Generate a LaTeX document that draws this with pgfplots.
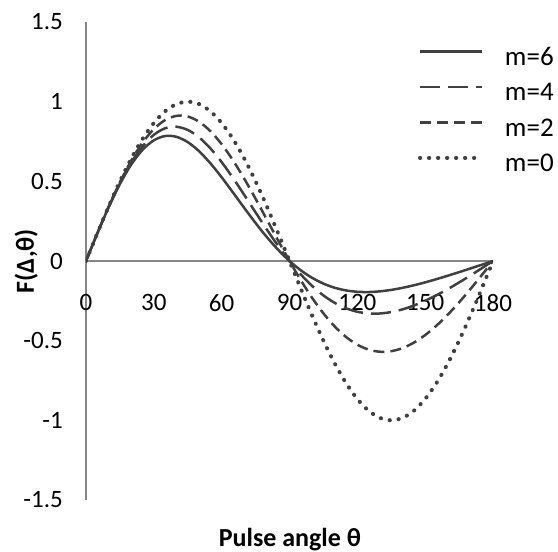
\documentclass[border=0pt]{standalone}
\usepackage{fontspec}
\setmainfont{Carlito}
\usepackage{pgfplots}
\pgfplotsset{compat=1.18}
\usepackage{pgfplotstable}
\definecolor{curve}{RGB}{64,64,64}
\definecolor{axisgray}{RGB}{134,134,134}
\pgfplotstableread{
theta m6 m4 m2 m0
0 0 0 0 0
5 0.1730 0.1732 0.1734 0.1736
10 0.3368 0.3385 0.3403 0.3420
15 0.4832 0.4888 0.4943 0.5000
20 0.6052 0.6175 0.6300 0.6428
25 0.6975 0.7196 0.7425 0.7660
30 0.7574 0.7920 0.8282 0.8660
35 0.7843 0.8331 0.8847 0.9397
40 0.7794 0.8426 0.9109 0.9848
45 0.7461 0.8226 0.9070 1.0000
50 0.6891 0.7761 0.8742 0.9848
55 0.6135 0.7072 0.8152 0.9397
60 0.5253 0.6205 0.7331 0.8660
65 0.4300 0.5213 0.6319 0.7660
70 0.3329 0.4145 0.5162 0.6428
75 0.2383 0.3051 0.3906 0.5000
80 0.1497 0.1971 0.2596 0.3420
85 0.0697 0.0945 0.1280 0.1736
90 0 0 0 0
95 -0.0585 -0.0841 -0.1208 -0.1736
100 -0.1057 -0.1564 -0.2313 -0.3420
105 -0.1420 -0.2161 -0.3287 -0.5000
110 -0.1680 -0.2627 -0.4110 -0.6428
115 -0.1847 -0.2967 -0.4768 -0.7660
120 -0.1932 -0.3186 -0.5253 -0.8660
125 -0.1948 -0.3292 -0.5562 -0.9397
130 -0.1905 -0.3294 -0.5695 -0.9848
135 -0.1814 -0.3204 -0.5661 -1.0000
140 -0.1684 -0.3034 -0.5466 -0.9848
145 -0.1524 -0.2795 -0.5124 -0.9397
150 -0.1341 -0.2496 -0.4650 -0.8660
155 -0.1138 -0.2149 -0.4058 -0.7660
160 -0.0924 -0.1764 -0.3367 -0.6428
165 -0.0700 -0.1349 -0.2597 -0.5000
170 -0.0470 -0.0911 -0.1765 -0.3420
175 -0.0236 -0.0459 -0.0892 -0.1736
180 0 0 0 0
}\datatable
\begin{document}
\fontsize{25}{30}\selectfont
\begin{tikzpicture}
\useasboundingbox (0,0) rectangle (558pt,552pt);
\fill[white] (0,0) rectangle (558pt,552pt);
\begin{axis}[
  at={(86pt,52pt)}, anchor=south west,
  scale only axis, width=407pt, height=478pt,
  xmin=0, xmax=180, ymin=-1.5, ymax=1.5,
  axis x line=middle, axis y line=left,
  hide obscured x ticks=false, hide obscured y ticks=false,
  axis line style={-, draw=axisgray, line width=1.5pt},
  major tick length=0pt,
  xtick={0,30,...,180},
  ytick={-1.5,-1,-0.5,0,0.5,1,1.5},
  /pgf/number format/assume math mode=true,
  tick label style={font=\fontsize{25}{30}\selectfont, text=black},
  xticklabel style={anchor=north, inner sep=0pt, yshift=-33pt},
  yticklabel style={anchor=east, inner sep=0pt, xshift=-23pt},
  xlabel={\textbf{Pulse angle θ}},
  ylabel={\textbf{F(Δ,θ)}},
  xlabel style={at={(axis description cs:0.501,-0.0837)}, anchor=center, font=\fontsize{26}{31}\selectfont},
  ylabel style={at={(axis description cs:-0.147,0.5)}, anchor=center, rotate=0, font=\fontsize{26}{31}\selectfont},
  legend image code/.code={\draw[#1] (0pt,8pt) -- (62pt,8pt);},
  legend style={at={(axis description cs:0.8157,0.945)}, anchor=north west,
    draw=none, fill=none, inner sep=0pt, outer sep=0pt,
    font=\fontsize{27}{32}\selectfont,
    nodes={inner sep=0pt, text height=17pt, text depth=5pt},
    row sep=13.5pt,
    /tikz/every odd column/.append style={column sep=21pt}},
  legend cell align=left,
  every axis plot/.append style={color=curve, smooth},
]
\addplot[line width=2.5pt] table[x=theta,y=m6] {\datatable};
\addlegendentry{m=6}
\addplot[line width=2.5pt, dash pattern=on 20pt off 8pt] table[x=theta,y=m4] {\datatable};
\addlegendentry{m=4}
\addplot[line width=2.5pt, dash pattern=on 11pt off 6pt] table[x=theta,y=m2] {\datatable};
\addlegendentry{m=2}
\addplot[line width=4pt, line cap=round, dash pattern=on 0.3pt off 8.7pt] table[x=theta,y=m0] {\datatable};
\addlegendentry{m=0}
\end{axis}
\end{tikzpicture}
\end{document}
